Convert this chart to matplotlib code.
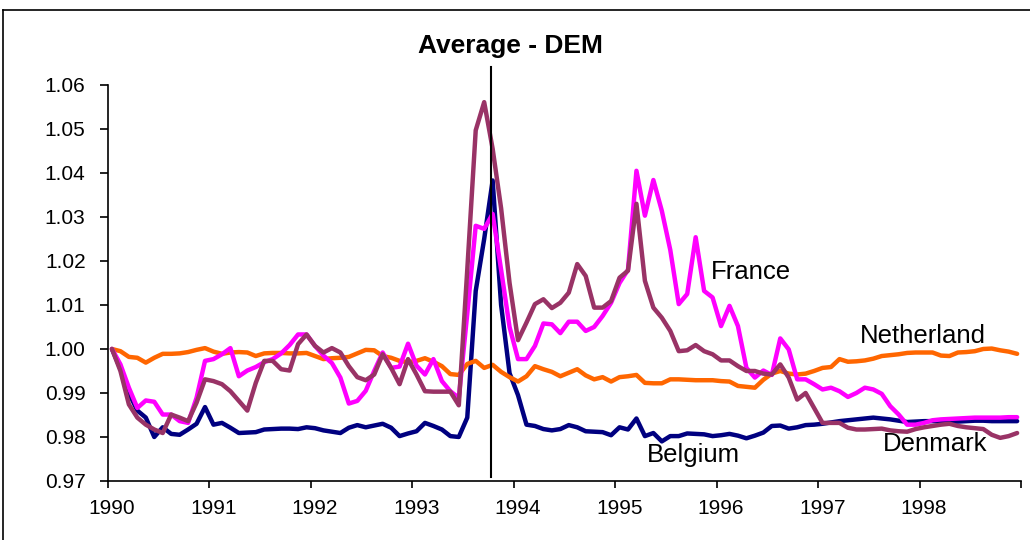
import numpy as np
import matplotlib
matplotlib.use("Agg")
import matplotlib.pyplot as plt
from matplotlib.lines import Line2D

plt.rcParams['font.family'] = ['Liberation Sans', 'DejaVu Sans']

# Monthly observations, Jan 1990 .. Dec 1998 (ratio to DEM average)
belgium = [
    1.0000, 0.9955, 0.9900, 0.9860, 0.9844, 0.9800, 0.9822, 0.9807, 0.9805, 0.9817, 0.9830, 0.9868,
    0.9828, 0.9832, 0.9821, 0.9809, 0.9810, 0.9811, 0.9817, 0.9818, 0.9819, 0.9819, 0.9818, 0.9822,
    0.9820, 0.9815, 0.9812, 0.9809, 0.9821, 0.9827, 0.9822, 0.9826, 0.9830, 0.9821, 0.9802, 0.9808,
    0.9813, 0.9832, 0.9825, 0.9817, 0.9802, 0.9800, 0.9844, 1.0132, 1.0250, 1.0383, 1.0100, 0.9945,
    0.9895, 0.9828, 0.9825, 0.9818, 0.9815, 0.9818, 0.9827, 0.9822, 0.9813, 0.9812, 0.9811, 0.9804,
    0.9822, 0.9817, 0.9842, 0.9802, 0.9809, 0.9790, 0.9802, 0.9802, 0.9808, 0.9807, 0.9806, 0.9802,
    0.9804, 0.9807, 0.9803, 0.9797, 0.9803, 0.9810, 0.9825, 0.9826, 0.9819, 0.9822, 0.9827, 0.9828,
    0.9830, 0.9833, 0.9836, 0.9838, 0.9840, 0.9842, 0.9844, 0.9842, 0.9840, 0.9837, 0.9834, 0.9835,
    0.9836, 0.9836, 0.9835, 0.9834, 0.9835, 0.9836, 0.9837, 0.9837, 0.9836, 0.9836, 0.9836, 0.9836,
]

france = [
    1.0000, 0.9965, 0.9912, 0.9866, 0.9883, 0.9880, 0.9851, 0.9851, 0.9836, 0.9832, 0.9889, 0.9973,
    0.9977, 0.9988, 1.0002, 0.9938, 0.9951, 0.9959, 0.9970, 0.9977, 0.9990, 1.0009, 1.0033, 1.0033,
    1.0007, 0.9985, 0.9968, 0.9935, 0.9876, 0.9882, 0.9905, 0.9950, 0.9992, 0.9957, 0.9960, 1.0012,
    0.9962, 0.9942, 0.9977, 0.9927, 0.9904, 0.9889, 1.0080, 1.0280, 1.0273, 1.0307, 1.0180, 1.0050,
    0.9977, 0.9977, 1.0007, 1.0058, 1.0056, 1.0036, 1.0062, 1.0062, 1.0041, 1.0050, 1.0075, 1.0105,
    1.0150, 1.0180, 1.0405, 1.0303, 1.0384, 1.0314, 1.0225, 1.0102, 1.0125, 1.0254, 1.0132, 1.0117,
    1.0052, 1.0098, 1.0052, 0.9957, 0.9935, 0.9951, 0.9941, 1.0024, 0.9999, 0.9931, 0.9931, 0.9920,
    0.9908, 0.9912, 0.9904, 0.9891, 0.9900, 0.9912, 0.9908, 0.9898, 0.9870, 0.9851, 0.9828, 0.9828,
    0.9832, 0.9838, 0.9840, 0.9841, 0.9842, 0.9843, 0.9844, 0.9844, 0.9844, 0.9844, 0.9845, 0.9845,
]

denmark = [
    1.0000, 0.9950, 0.9874, 0.9844, 0.9828, 0.9817, 0.9809, 0.9851, 0.9844, 0.9836, 0.9878, 0.9931,
    0.9927, 0.9920, 0.9904, 0.9882, 0.9860, 0.9923, 0.9973, 0.9973, 0.9954, 0.9951, 1.0011, 1.0033,
    1.0007, 0.9992, 1.0002, 0.9992, 0.9961, 0.9936, 0.9929, 0.9942, 0.9988, 0.9957, 0.9920, 0.9977,
    0.9942, 0.9904, 0.9903, 0.9903, 0.9903, 0.9872, 1.0180, 1.0497, 1.0561, 1.0455, 1.0320, 1.0150,
    1.0020, 1.0060, 1.0102, 1.0113, 1.0093, 1.0105, 1.0128, 1.0193, 1.0166, 1.0094, 1.0094, 1.0109,
    1.0162, 1.0178, 1.0330, 1.0155, 1.0094, 1.0071, 1.0041, 0.9995, 0.9997, 1.0009, 0.9995, 0.9988,
    0.9974, 0.9974, 0.9961, 0.9950, 0.9950, 0.9944, 0.9942, 0.9965, 0.9935, 0.9885, 0.9900, 0.9866,
    0.9832, 0.9832, 0.9832, 0.9821, 0.9817, 0.9817, 0.9818, 0.9819, 0.9815, 0.9813, 0.9812, 0.9818,
    0.9822, 0.9825, 0.9828, 0.9830, 0.9825, 0.9822, 0.9820, 0.9818, 0.9805, 0.9798, 0.9802, 0.9809,
]

netherland = [
    1.0000, 0.9995, 0.9982, 0.9980, 0.9969, 0.9980, 0.9989, 0.9989, 0.9990, 0.9993, 0.9998, 1.0002,
    0.9994, 0.9989, 0.9992, 0.9993, 0.9992, 0.9984, 0.9990, 0.9991, 0.9991, 0.9990, 0.9990, 0.9991,
    0.9984, 0.9977, 0.9979, 0.9980, 0.9982, 0.9990, 0.9998, 0.9997, 0.9984, 0.9980, 0.9973, 0.9970,
    0.9973, 0.9979, 0.9971, 0.9961, 0.9943, 0.9941, 0.9966, 0.9973, 0.9957, 0.9964, 0.9948, 0.9936,
    0.9926, 0.9938, 0.9961, 0.9954, 0.9948, 0.9938, 0.9946, 0.9954, 0.9940, 0.9931, 0.9936, 0.9926,
    0.9936, 0.9938, 0.9941, 0.9923, 0.9922, 0.9922, 0.9931, 0.9931, 0.9930, 0.9929, 0.9929, 0.9929,
    0.9927, 0.9926, 0.9916, 0.9914, 0.9912, 0.9930, 0.9944, 0.9950, 0.9944, 0.9942, 0.9944, 0.9950,
    0.9957, 0.9959, 0.9977, 0.9971, 0.9972, 0.9974, 0.9978, 0.9984, 0.9986, 0.9988, 0.9991, 0.9992,
    0.9992, 0.9992, 0.9985, 0.9984, 0.9992, 0.9993, 0.9995, 1.0000, 1.0001, 0.9997, 0.9994, 0.9989,
]

year_labels = ['1990', '1991', '1992', '1993', '1994', '1995', '1996', '1997', '1998']
y_ticks = [0.97, 0.98, 0.99, 1.00, 1.01, 1.02, 1.03, 1.04, 1.05, 1.06]
title = 'Average - DEM'
event_date = 1993.78  # marked vertical line

# month positions (points at the centre of each monthly category)
n = len(belgium)
t = 1990 + (np.arange(n) + 0.5) / 12.0

fig = plt.figure(figsize=(10.30, 5.40), dpi=100)
ax = fig.add_axes([0.1046, 0.1093, 0.9916 - 0.1046, 0.8426 - 0.1093])

series = [
    (belgium, '#000080'),
    (netherland, '#FF6600'),
    (france, '#FF00FF'),
    (denmark, '#993366'),
]
for vals, col in series:
    ax.plot(t, vals, color=col, lw=3.2, solid_joinstyle='round', solid_capstyle='round')

ax.set_xlim(1990, 1999)
ax.set_ylim(0.97, 1.06)

years = np.arange(1990, 2000)
ax.set_xticks(years)
ax.set_xticklabels([''] * len(years))
ax.set_xticks(np.arange(1990, 1999) + 0.5 / 12, minor=True)
ax.set_xticklabels(year_labels, minor=True)
ax.tick_params(axis='x', which='major', direction='out', length=5, width=1.2, color='black')
ax.tick_params(axis='x', which='minor', length=0, pad=13, labelsize=15)

ax.set_yticks(y_ticks)
ax.set_yticklabels([f'{v:.2f}' for v in y_ticks])
ax.tick_params(axis='y', direction='out', length=6, width=1.2, pad=10, labelsize=15)

for s in ['top', 'right']:
    ax.spines[s].set_visible(False)
for s in ['left', 'bottom']:
    ax.spines[s].set_linewidth(1.2)
    ax.spines[s].set_color('black')

# vertical marker line
ax.plot([event_date, event_date], [0.9708, 1.064], color='black', lw=1.5, clip_on=False)

# series labels
ax.text(1996.34, 1.0160, 'France', fontsize=18.5, ha='center', va='baseline')
ax.text(1998.03, 1.0013, 'Netherland', fontsize=18.5, ha='center', va='baseline')
ax.text(1995.77, 0.9742, 'Belgium', fontsize=18.5, ha='center', va='baseline')
ax.text(1998.15, 0.9769, 'Denmark', fontsize=18.5, ha='center', va='baseline')

# title
fig.text(510 / 1030, 1 - 46 / 540, title, fontsize=19, fontweight='bold', ha='center', va='center')

# chart-area border
fig.add_artist(Line2D([3 / 1030, 1.0], [1 - 10 / 540, 1 - 10 / 540], color='black', lw=1.2,
                      transform=fig.transFigure))
fig.add_artist(Line2D([3 / 1030, 3 / 1030], [0, 1 - 10 / 540], color='black', lw=1.2,
                      transform=fig.transFigure))

fig.savefig('out.png', dpi=100)
